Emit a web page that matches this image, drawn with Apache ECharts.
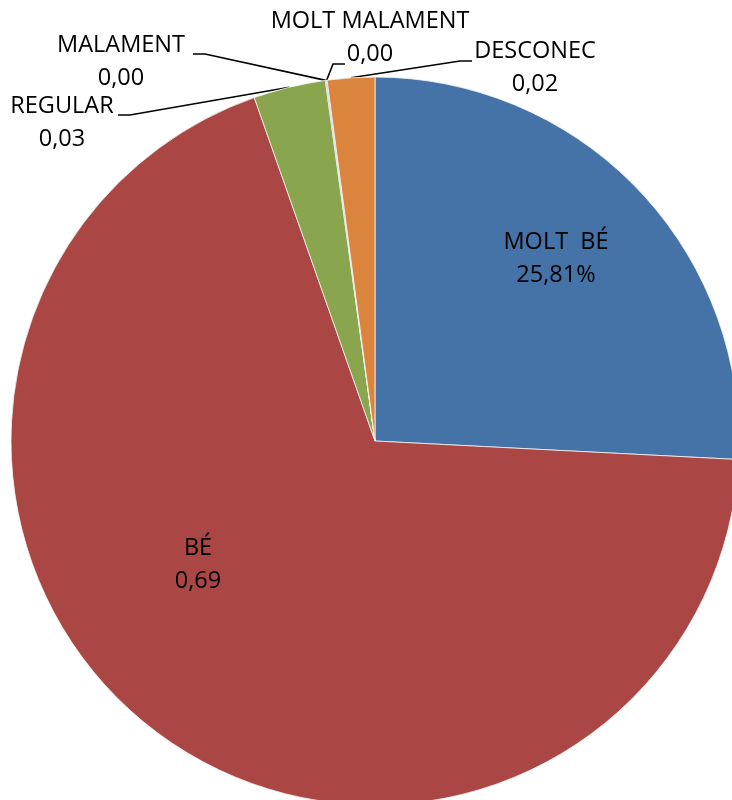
<!DOCTYPE html>
<html>
<head>
<meta charset="utf-8">
<script src="https://cdn.jsdelivr.net/npm/echarts@6/dist/echarts.min.js"></script>
<style>
    html, body { margin: 0; padding: 0; background: #fff; }
    #chart { width: 732px; height: 800px; }
</style>
</head>
<body>
<div id="chart"></div>
<script>
var categories = ['MOLT  BÉ', 'BÉ', 'REGULAR', 'MALAMENT', 'MOLT MALAMENT', 'DESCONEC'];
var values = [0.2581, 0.6881, 0.032, 0.0004, 0.0004, 0.021];
var colors = ['#4572a7', '#aa4643', '#89a54e', '#71588f', '#4198af', '#db843d'];

// label block centres, and where the leader line meets an outside label
var labelPos = [[556, 259], [198, 565], [62, 123], [121, 62], [370, 38], [535, 68]];
var lineEnd = [null, null, [118, 115], [193, 54], [345, 64], [472, 61]];

function fmt(v) {
    return v.toFixed(2).replace('.', ',');
}

var data = categories.map(function (name, i) {
    var inside = lineEnd[i] == null;
    return {
        name: name,
        value: values[i],
        itemStyle: { color: colors[i] },
        label: { position: inside ? 'inside' : 'outside' },
        labelLine: { show: !inside }
    };
});

var myChart = echarts.init(document.getElementById('chart'));
var option = {
    animation: false,
    series: [{
        type: 'pie',
        center: [375, 441],
        radius: 364,
        startAngle: 90,
        clockwise: true,
        avoidLabelOverlap: false,
        itemStyle: { borderColor: '#f4f4f4', borderWidth: 0.8 },
        label: {
            color: '#000',
            fontFamily: 'Open Sans',
            fontSize: 23.5,
            lineHeight: 33,
            align: 'center',
            formatter: function (p) {
                var v = p.dataIndex === 0 ? p.percent.toFixed(2).replace('.', ',') + '%' : fmt(p.value);
                return p.name + '\n' + v;
            }
        },
        labelLine: {
            lineStyle: { color: '#000', width: 1.6 }
        },
        labelLayout: function (p) {
            var i = p.dataIndex;
            var out = {
                x: labelPos[i][0],
                y: labelPos[i][1],
                align: 'center',
                verticalAlign: 'middle'
            };
            var e = lineEnd[i];
            if (e && p.labelLinePoints) {
                var a = p.labelLinePoints[0];
                var bend = e[0] < a[0] ? 12 : -12;
                out.labelLinePoints = [a, [e[0] + bend, e[1]], e];
            }
            return out;
        },
        data: data
    }]
};
myChart.setOption(option);
</script>
</body>
</html>
